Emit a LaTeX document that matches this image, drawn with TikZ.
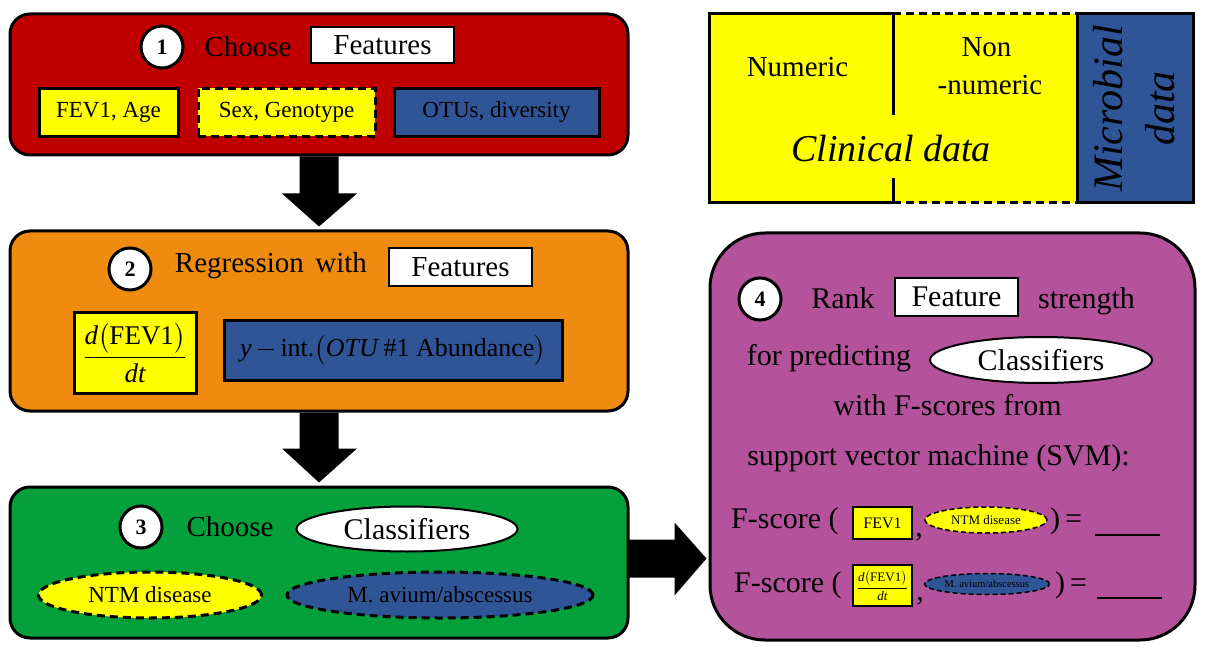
\documentclass[tikz,border=0pt]{standalone}
\usepackage{fix-cm}
\usepackage{amsmath}
\usepackage{fontspec}
\setmainfont{Liberation Serif}
\usetikzlibrary{shapes.geometric,calc}
\definecolor{cred}{HTML}{C00000}
\definecolor{corange}{HTML}{EF8C10}
\definecolor{cgreen}{HTML}{03A03B}
\definecolor{cpurple}{HTML}{B4529B}
\definecolor{cblue}{HTML}{2F5597}
\definecolor{cyellow}{HTML}{FFFF00}
\newcommand\fz[1]{\fontsize{#1}{#1}\selectfont}
\begin{document}
\begin{tikzpicture}[x=1pt,y=-1pt,
  stage/.style={draw, line width=3pt, rounded corners=20pt, inner sep=0pt},
  numc/.style={circle, draw, fill=white, line width=3pt, minimum size=42pt, inner sep=0pt, font=\fz{22}\bfseries},
  wbox/.style={draw, fill=white, line width=2.5pt, inner sep=0pt},
  ybox/.style={draw, fill=cyellow, line width=3pt, inner sep=0pt},
  bbox/.style={draw, fill=cblue, line width=3pt, inner sep=0pt},
  dsh/.style={dash pattern=on 8pt off 5pt},
  ell/.style={ellipse, draw, line width=2pt, inner sep=0pt},
  txt/.style={inner sep=0pt},
  blockarrow/.style={fill=black}]
\useasboundingbox (0,0) rectangle (1210,655);

% ---------- stage 1 ----------
\node[stage, fill=cred, minimum width=618pt, minimum height=141pt] (b1) at (319,84.5) {};
\node[numc] (c1) at (162,47) {1};
\node[txt, font=\fz{29}] (t1) at (248,47) {Choose};
\node[wbox, minimum width=143pt, minimum height=36pt, font=\fz{29}] (feat1) at (382.5,45) {Features};
\node[ybox, minimum width=139pt, minimum height=48pt, font=\fz{23}] (fev) at (108.5,112.5) {FEV1, Age};
\node[ybox, dsh, minimum width=177pt, minimum height=48pt, font=\fz{23}] (sex) at (286.5,112.5) {Sex, Genotype};
\node[bbox, minimum width=205pt, minimum height=48pt, font=\fz{23}] (otu) at (496.5,112.5) {OTUs, diversity};

% ---------- stage 2 ----------
\node[stage, fill=corange, minimum width=618pt, minimum height=180pt] (b2) at (319,321) {};
\node[numc] (c2) at (130,269) {2};
\node[txt, font=\fz{29}] (t2) at (271,266) {Regression\hspace{0.4em}with};
\node[wbox, minimum width=143pt, minimum height=38pt, font=\fz{29}] (feat2) at (460.5,267) {Features};
\node[ybox, minimum width=122pt, minimum height=81pt, font=\fz{27}] (frac) at (135,352.5)
  {$\dfrac{\textit{d}\bigl(\text{FEV1}\bigr)}{\textit{dt}}$};
\node[bbox, minimum width=338pt, minimum height=60pt, font=\fz{26}] (yint) at (393,350)
  {\textit{y}\,$-$\,int.$\bigl($\textit{OTU}\,\#1 Abundance$\bigr)$};

% ---------- stage 3 ----------
\node[stage, fill=cgreen, minimum width=618pt, minimum height=151pt] (b3) at (319,562.5) {};
\node[numc] (c3) at (141,527) {3};
\node[txt, font=\fz{29}] (t3) at (230,527) {Choose};
\node[ell, fill=white, minimum width=221pt, minimum height=45pt, font=\fz{30}] (cls3) at (407,529) {Classifiers};
\node[ell, fill=cyellow, line width=3pt, dsh, minimum width=223pt, minimum height=46pt, font=\fz{23}] (ntm) at (150,595) {NTM disease};
\node[ell, fill=cblue, line width=3pt, dsh, minimum width=306pt, minimum height=46pt, font=\fz{23}] (mav) at (440,595) {M. avium/abscessus};

% ---------- stage 4 ----------
\node[draw, line width=3pt, rounded corners=55pt, fill=cpurple, minimum width=485pt, minimum height=407pt] (b4) at (952.5,436.5) {};
\node[numc] (c4) at (760,299) {4};
\node[txt, font=\fz{30}, anchor=base] (rank) at (843,308) {Rank};
\node[wbox, minimum width=123pt, minimum height=38pt, font=\fz{30}] (feat4) at (956.5,297) {Feature};
\node[txt, font=\fz{30}, anchor=base] (str) at (1086.5,308) {strength};
\node[txt, font=\fz{30}, anchor=base] (pred) at (829,365) {for predicting};
\node[ell, fill=white, minimum width=222pt, minimum height=46pt, font=\fz{30}] (cls4) at (1041,360) {Classifiers};
\node[txt, font=\fz{30}, anchor=base] (with) at (947.5,415) {with F-scores from};
\node[txt, font=\fz{30}, anchor=base] (svm) at (938.5,465) {support vector machine (SVM):};

\node[txt, font=\fz{30}, anchor=base west] (fs1) at (731,528) {F-score (};
\node[ybox, line width=2pt, minimum width=59pt, minimum height=32pt, font=\fz{16}] (fev4) at (882.5,523) {FEV1};
\node[txt, font=\fz{30}, anchor=base] (cm1) at (919,536) {,};
\node[ell, fill=cyellow, line width=1.5pt, dash pattern=on 5pt off 3pt, minimum width=122pt, minimum height=26pt, font=\fz{13}] (ntm4) at (986,520) {NTM disease};
\node[txt, font=\fz{30}, anchor=base west] (eq1) at (1050,528) {)\hspace{5pt}=};
\node[txt, anchor=west] (bl1) at (1095,535) {\rule{65pt}{1.5pt}};

\node[txt, font=\fz{30}, anchor=base west] (fs2) at (734,592) {F-score (};
\node[ybox, line width=2pt, minimum width=59pt, minimum height=41pt, font=\fz{13}] (frac4) at (882.5,585.5)
  {$\dfrac{\textit{d}\bigl(\text{FEV1}\bigr)}{\textit{dt}}$};
\node[txt, font=\fz{30}, anchor=base] (cm2) at (920,600) {,};
\node[ell, fill=cblue, line width=1.5pt, dash pattern=on 5pt off 3pt, minimum width=125pt, minimum height=21pt, font=\fz{10.5}] (mav4) at (987,584) {M. avium/abscessus};
\node[txt, font=\fz{30}, anchor=base west] (eq2) at (1055,592) {)\hspace{5pt}=};
\node[txt, anchor=west] (bl2) at (1097,598) {\rule{65pt}{1.5pt}};

% ---------- block arrows ----------
\fill[blockarrow] ($(b1.south)+(-19.5,0)$) -- ($(b1.south)+(19.5,0)$) -- ($(b1.south)+(19.5,37)$)
  -- ($(b1.south)+(38,37)$) -- ($(b2.north)+(0,-3)$) -- ($(b1.south)+(-37,37)$)
  -- ($(b1.south)+(-19.5,37)$) -- cycle;
\fill[blockarrow] ($(b2.south)+(-19.5,0)$) -- ($(b2.south)+(19.5,0)$) -- ($(b2.south)+(19.5,36)$)
  -- ($(b2.south)+(38,36)$) -- ($(b3.north)+(0,-3)$) -- ($(b2.south)+(-37,36)$)
  -- ($(b2.south)+(-19.5,36)$) -- cycle;
\coordinate (a3) at ($(b3.east)+(0,-4)$);
\fill[blockarrow] ($(a3)+(-2,-19)$) -- ($(a3)+(45,-19)$) -- ($(a3)+(45,-36)$)
  -- ($(b4.west |- a3)+(-2,0)$) -- ($(a3)+(45,37)$) -- ($(a3)+(45,19)$)
  -- ($(a3)+(-2,19)$) -- cycle;

% ---------- legend ----------
\fill[cyellow] (709,14) rectangle (1077,203);
\draw[line width=3pt] (893,14) -- (709,14) -- (709,203) -- (893,203);
\draw[line width=3pt, dsh] (893,14) -- (1077,14);
\draw[line width=3pt, dsh] (893,203) -- (1077,203);
\draw[line width=3pt] (893,14) -- (893,115);
\draw[line width=3pt] (893,178) -- (893,203);
\node[bbox, minimum width=116pt, minimum height=189pt] (micro) at (1135,108.5) {};
\node[txt, font=\fz{29}, anchor=base] (num) at (797.5,77) {Numeric};
\node[txt, font=\fz{29}, anchor=base] (non1) at (986.5,57) {Non};
\node[txt, font=\fz{29}, anchor=base] (non2) at (990,95) {-numeric};
\node[txt, font=\fz{38}\itshape, anchor=base] (clin) at (891,162) {Clinical data};
\node[txt, font=\fz{42}\itshape, rotate=90, align=center] (mic) at ($(micro.center)+(-1,0)$) {Microbial\\[10pt]data};
\end{tikzpicture}
\end{document}
